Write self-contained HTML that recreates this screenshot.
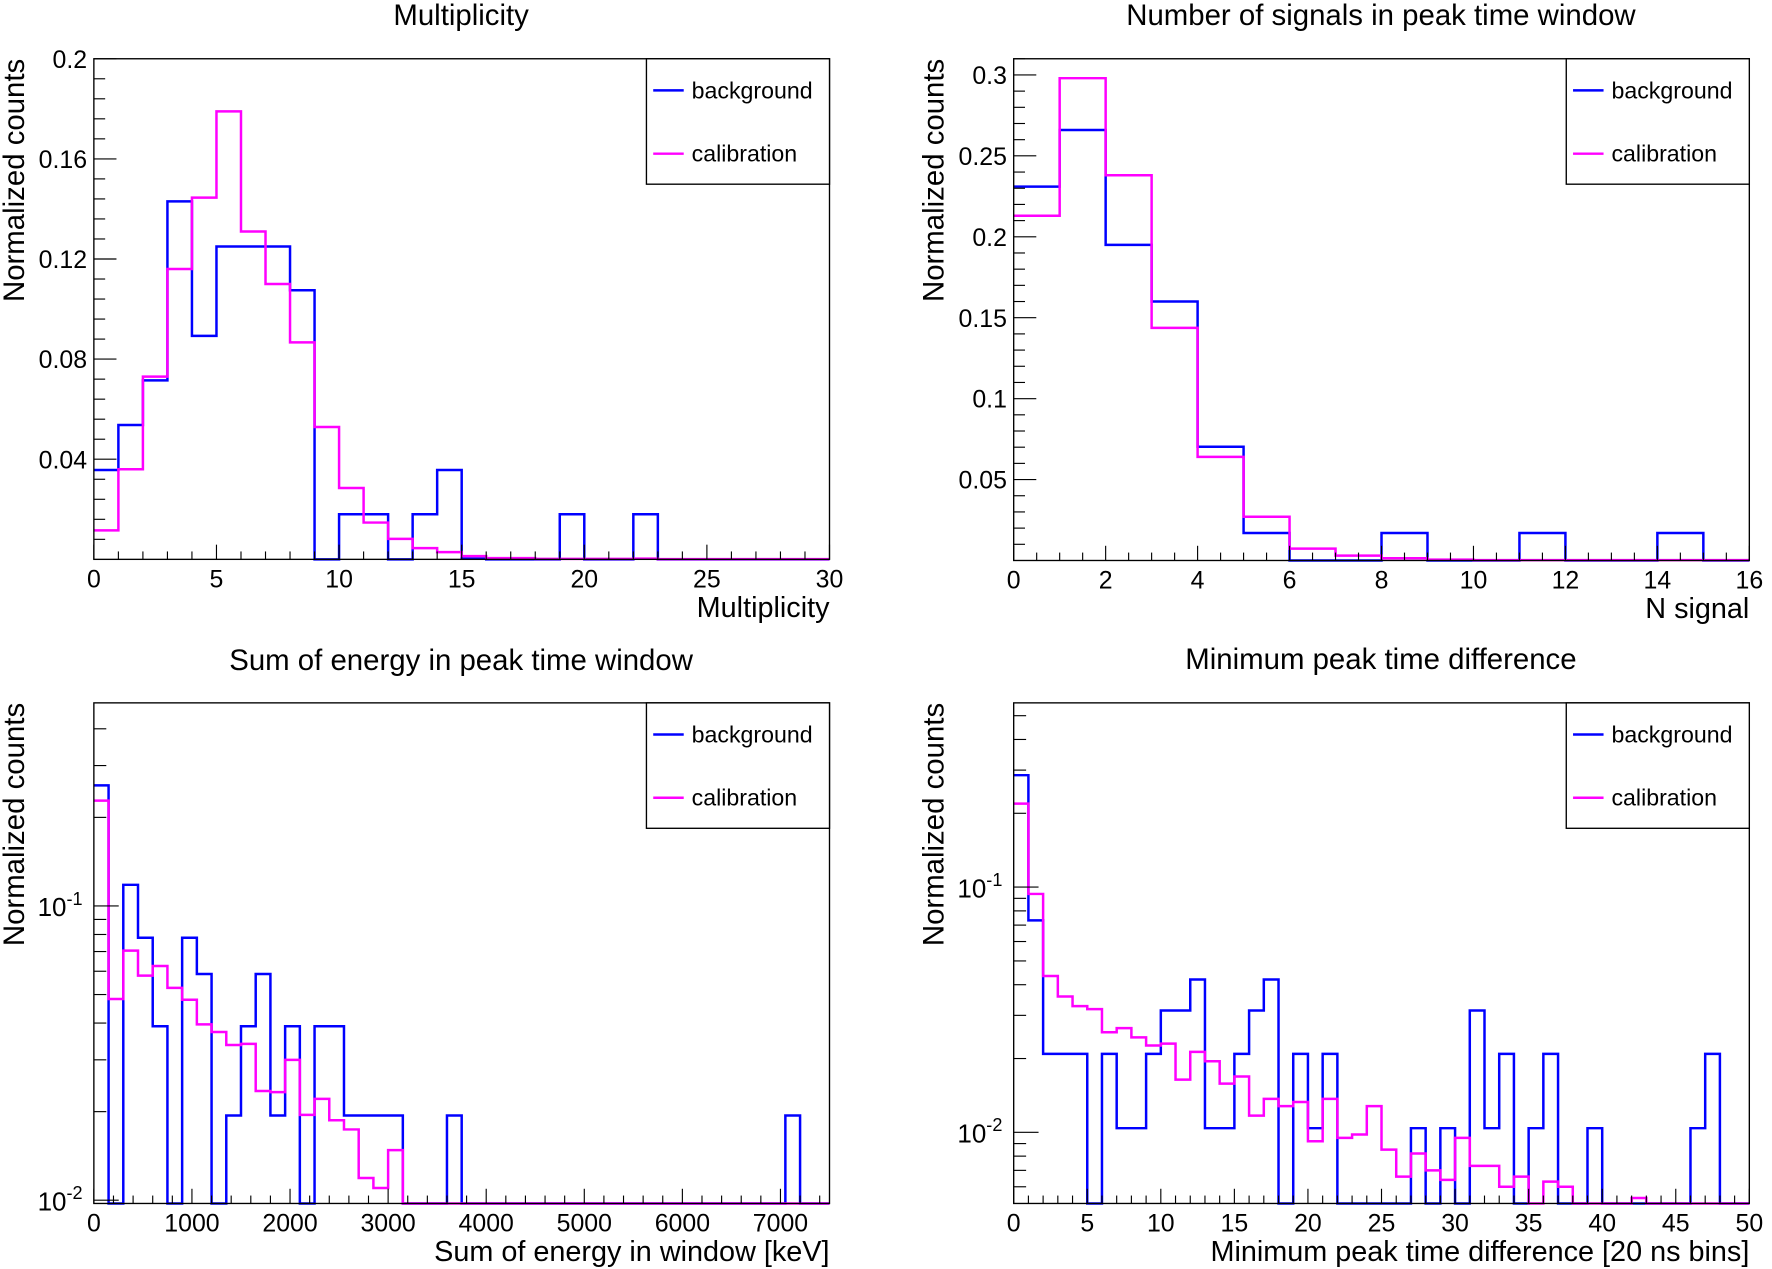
<!DOCTYPE html>
<html><head><meta charset="utf-8">
<style>
html,body{margin:0;padding:0;background:#fff;}
svg{display:block;}
text{font-family:"Liberation Sans",Arial,sans-serif;fill:#000;}
</style></head>
<body>
<svg id="fig" xmlns="http://www.w3.org/2000/svg" width="1772" height="1269" viewBox="0 0 1568 1123"></svg>
<script>
// ---- Panel 1: Multiplicity (bin width 1, 0..30)
const multBg = [0.0357,0.0537,0.0715,0.143,0.0893,0.125,0.125,0.125,0.1075,0,0.018,0.018,0,0.018,0.0357,0.0003,0,0,0,0.018,0,0,0.018,0,0,0,0,0,0,0];
const multCal = [0.0116,0.036,0.073,0.116,0.1445,0.179,0.131,0.110,0.0867,0.0529,0.0285,0.0147,0.0082,0.0045,0.0029,0.0013,0.0005,0.0005,0.0002,0.0002,0.0002,0.0002,0.0003,0.0001,0.0001,0.0001,0.0001,0.0001,0.0001,0.0001];
const multXTicks = [0,5,10,15,20,25,30];
const multYTicks = [0.04,0.08,0.12,0.16,0.2];
const multYLabels = ["0.04","0.08","0.12","0.16","0.2"];
// ---- Panel 2: N signal (bin width 1, 0..16)
const nsigBg = [0.231,0.266,0.195,0.160,0.0703,0.017,0,0,0.017,0,0,0.017,0,0,0.017,0];
const nsigCal = [0.213,0.298,0.238,0.1437,0.064,0.027,0.0073,0.003,0.0014,0.0005,0.0002,0.0002,0.0002,0.0002,0.0002,0.0002];
const nsigXTicks = [0,2,4,6,8,10,12,14,16];
const nsigYTicks = [0.05,0.1,0.15,0.2,0.25,0.3];
const nsigYLabels = ["0.05","0.1","0.15","0.2","0.25","0.3"];
// ---- Panel 3: Sum of energy (bin width 150 keV, 0..7500), log y
const energyBg = [0.257,0,0.118,0.078,0.039,0,0.078,0.0587,0,0.0194,0.039,0.0587,0.0194,0.039,0,0.039,0.039,0.0194,0.0194,0.0194,0.0194,0,0,0,0.0194,0,0,0,0,0,0,0,0,0,0,0,0,0,0,0,0,0,0,0,0,0,0,0.0194,0,0];
const energyCal = [0.228,0.0483,0.0705,0.058,0.0625,0.0527,0.048,0.0396,0.0373,0.0337,0.034,0.0235,0.0233,0.030,0.0195,0.0221,0.0187,0.0174,0.0119,0.011,0.0148,0,0,0,0,0,0,0,0,0,0,0,0,0,0,0,0,0,0,0,0,0,0,0,0,0,0,0,0,0];
const energyXTicks = [0,1000,2000,3000,4000,5000,6000,7000];
// ---- Panel 4: Min peak time difference (bin width 1, 0..50), log y
const dtBg = [0.286,0.0732,0.0209,0.0209,0.0209,0,0.0209,0.0104,0.0104,0.0209,0.0314,0.0314,0.042,0.0104,0.0104,0.0209,0.0314,0.042,0,0.0209,0.0104,0.0209,0,0,0,0,0,0.0104,0,0.0104,0,0.0314,0.0104,0.0209,0,0.0104,0.0209,0,0,0.0104,0,0,0,0,0,0,0.0104,0.0209,0,0];
const dtCal = [0.219,0.0938,0.0434,0.0358,0.0327,0.0318,0.0256,0.0266,0.0244,0.0226,0.023,0.0164,0.0213,0.0195,0.0158,0.0169,0.0117,0.0137,0.0128,0.0133,0.0092,0.0137,0.0095,0.0098,0.0128,0.0085,0.0066,0.0082,0.0070,0.0064,0.0095,0.0073,0.0073,0.0060,0.0066,0,0.0063,0.0060,0,0,0,0,0.0054,0,0,0,0,0,0,0];
const dtXTicks = [0,5,10,15,20,25,30,35,40,45,50];

const NS = "http://www.w3.org/2000/svg";
const svg = document.getElementById('fig');
function mk(tag, attrs, parent){
  const e = document.createElementNS(NS, tag);
  for (const k in attrs) e.setAttribute(k, attrs[k]);
  (parent||svg).appendChild(e);
  return e;
}

function panel(cfg){
  const g = mk('g', {});
  
  
  const L=cfg.x0, R=cfg.x1, T=cfg.y0, B=cfg.y1;
  const sx = v => L + (v - cfg.xmin)/(cfg.xmax - cfg.xmin)*(R-L);
  let sy;
  if (cfg.log) {
    const lmin=Math.log10(cfg.ymin), lmax=Math.log10(cfg.ymax);
    sy = v => { if (v<=cfg.ymin) return B; return B - (Math.log10(v)-lmin)/(lmax-lmin)*(B-T); };
  } else {
    sy = v => B - (v - cfg.ymin)/(cfg.ymax - cfg.ymin)*(B-T);
  }
  const t = mk('text', {x:cfg.titleX, y:cfg.titleY, 'text-anchor':'middle', 'font-size':26}, g);
  t.textContent = cfg.title;
  
  
  const drawHist = (vals, color, nm) => {
    const bw = (cfg.xmax-cfg.xmin)/vals.length;
    let d = '';
    for (let i=0;i<vals.length;i++){
      const xa = sx(cfg.xmin+i*bw), xb = sx(cfg.xmin+(i+1)*bw);
      const y = Math.max(T, Math.min(B, sy(vals[i])));
      d += (i===0 ? 'M'+xa+','+y : 'L'+xa+','+y) + 'L'+xb+','+y;
    }
    const p = mk('path', {d:d, fill:'none', stroke:color, 'stroke-width':2.2}, g);
    
    
  };
  drawHist(cfg.bg, '#0000ff', 'background-histogram');
  drawHist(cfg.cal, '#ff00ff', 'calibration-histogram');
  const fr = mk('rect', {x:L, y:T, width:R-L, height:B-T, fill:'none', stroke:'#000', 'stroke-width':1.2}, g);
  
  
  const xt = cfg.xTicks;
  const xstep = xt[1]-xt[0];
  const xminorStep = xstep / cfg.xMinorN;
  for (let v=cfg.xmin; v<=cfg.xmax+1e-9; v+=xminorStep){
    const isMajor = Math.abs(Math.round((v-xt[0])/xstep)*xstep - (v-xt[0])) < 1e-6;
    const x = sx(v);
    mk('line', {x1:x, y1:B, x2:x, y2:B-(isMajor?13:7), stroke:'#000', 'stroke-width':1}, g);
  }
  xt.forEach(v => {
    const tx = mk('text', {x:sx(v), y:B+25, 'text-anchor':'middle', 'font-size':22}, g);
    tx.textContent = String(v);
    
    
  });
  const xtitle = mk('text', {x:R, y:B+51, 'text-anchor':'end', 'font-size':25.5}, g);
  xtitle.textContent = cfg.xTitle;
  
  
  if (cfg.log) {
    for (let dec=-3; dec<=0; dec++){
      for (let m=1; m<=9; m++){
        const v = m*Math.pow(10,dec);
        if (v<cfg.ymin || v>cfg.ymax) continue;
        const y = sy(v);
        mk('line', {x1:L, y1:y, x2:L+(m===1?22:11), y2:y, stroke:'#000', 'stroke-width':1}, g);
      }
    }
    [-1,-2].forEach(e => {
      const y = sy(Math.pow(10,e));
      const tx = mk('text', {x:L-10, y:y+9, 'text-anchor':'end', 'font-size':23}, g);
      tx.textContent = '10';
      const sp = mk('tspan', {dy:-10, 'font-size':16}, tx);
      sp.textContent = String(e);
      
      
    });
  } else {
    const yt = cfg.yTicks;
    const ystep = yt[1]-yt[0];
    const ym = ystep/cfg.yMinorN;
    for (let v=cfg.ymin+ym; v<=cfg.ymax+1e-9; v+=ym){
      const isMajor = Math.abs(Math.round(v/ystep)*ystep - v) < 1e-6;
      const y = sy(v);
      mk('line', {x1:L, y1:y, x2:L+(isMajor?20:10), y2:y, stroke:'#000', 'stroke-width':1}, g);
    }
    yt.forEach((v,i) => {
      const tx = mk('text', {x:L-6, y:sy(v)+8, 'text-anchor':'end', 'font-size':22}, g);
      tx.textContent = cfg.yLabels[i];
      
      
    });
  }
  const yl = mk('text', {x:0, y:0, 'text-anchor':'end', 'font-size':26, transform:'translate('+(cfg.yTitleX)+','+T+') rotate(-90)'}, g);
  yl.textContent = 'Normalized counts';
  
  
  const lg = mk('g', {}, g);
  
  
  const lx = R-162;
  mk('rect', {x:lx, y:T, width:162, height:111, fill:'#fff', stroke:'#000', 'stroke-width':1.2}, lg);
  [['background','#0000ff',28],['calibration','#ff00ff',84]].forEach(([lab,col,dy]) => {
    const e = mk('g', {}, lg);
    
    
    mk('line', {x1:lx+6, y1:T+dy, x2:lx+33, y2:T+dy, stroke:col, 'stroke-width':2.2}, e);
    const tx = mk('text', {x:lx+40, y:T+dy+7, 'font-size':20.5}, e);
    tx.textContent = lab;
  });
}

panel({name:'multiplicity-panel', x0:83, x1:734, y0:52, y1:495, xmin:0, xmax:30, ymin:0, ymax:0.2,
  bg:multBg, cal:multCal, xTicks:multXTicks, xMinorN:5, yTicks:multYTicks, yLabels:multYLabels, yMinorN:5,
  title:'Multiplicity', titleX:408, titleY:22, xTitle:'Multiplicity', yTitleX:21});
panel({name:'n-signal-panel', x0:897, x1:1548, y0:52, y1:496, xmin:0, xmax:16, ymin:0, ymax:0.310,
  bg:nsigBg, cal:nsigCal, xTicks:nsigXTicks, xMinorN:4, yTicks:nsigYTicks, yLabels:nsigYLabels, yMinorN:5,
  title:'Number of signals in peak time window', titleX:1222, titleY:22, xTitle:'N signal', yTitleX:835});
panel({name:'energy-panel', x0:83, x1:734, y0:622, y1:1065, xmin:0, xmax:7500, ymin:0.00975, ymax:0.49, log:true,
  bg:energyBg, cal:energyCal, xTicks:energyXTicks, xMinorN:5,
  title:'Sum of energy in peak time window', titleX:408, titleY:593, xTitle:'Sum of energy in window [keV]', yTitleX:21});
panel({name:'time-difference-panel', x0:897, x1:1548, y0:622, y1:1065, xmin:0, xmax:50, ymin:0.00513, ymax:0.564, log:true,
  bg:dtBg, cal:dtCal, xTicks:dtXTicks, xMinorN:5,
  title:'Minimum peak time difference', titleX:1222, titleY:592, xTitle:'Minimum peak time difference [20 ns bins]', yTitleX:835});
</script>
</body></html>
